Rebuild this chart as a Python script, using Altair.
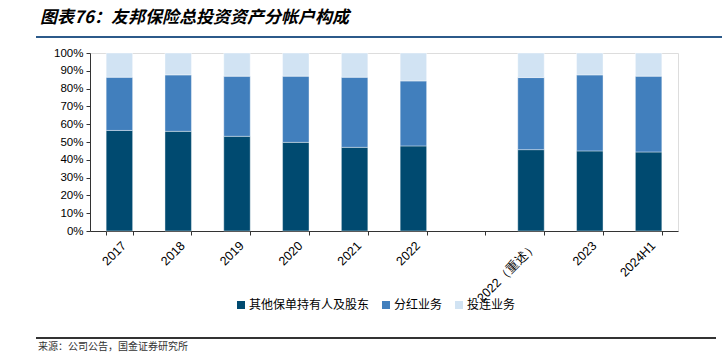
import altair as alt
import pandas as pd

categories = ["2017", "2018", "2019", "2020", "2021", "2022", " ", "2022（重述）", "2023", "2024H1"]
bar_cats = ["2017", "2018", "2019", "2020", "2021", "2022", "2022（重述）", "2023", "2024H1"]
series = ["其他保单持有人及股东", "分红业务", "投连业务"]
other = [56.5, 56.0, 53.2, 49.8, 47.0, 47.8, 45.7, 45.0, 44.4]
participating = [29.9, 31.7, 33.8, 37.2, 39.4, 36.5, 40.5, 42.7, 42.6]
unit_linked = [13.6, 12.3, 13.0, 13.0, 13.6, 15.7, 13.8, 12.3, 13.0]
colors = ["#004A70", "#417FBD", "#D1E3F3"]
y_ticks = [0, 0.1, 0.2, 0.3, 0.4, 0.5, 0.6, 0.7, 0.8, 0.9, 1.0]

title_text = "图表76：友邦保险总投资资产分帐户构成"
source_text = "来源：公司公告，国金证券研究所"

rows = []
for vals, s, k in zip([other, participating, unit_linked], series, range(3)):
    for c, v in zip(bar_cats, vals):
        rows.append({"year": c, "series": s, "value": v, "order": k})
df = pd.DataFrame(rows)

W, H = 588, 178
LEFT, TOP = 90, 53

bars = alt.Chart(df).mark_bar(stroke="#ffffff", strokeOpacity=0.5, strokeWidth=0.8).encode(
    x=alt.X("year:N", sort=categories,
            scale=alt.Scale(domain=categories, paddingInner=0.55, paddingOuter=0.275),
            axis=alt.Axis(title=None, labelAngle=-45, labelFont="Liberation Sans",
                          labelFontSize=12.5, labelColor="#000000", tickBand="extent",
                          tickSize=4, labelPadding=4, domainColor="#333333",
                          tickColor="#333333", labelOverlap=False)),
    y=alt.Y("value:Q", stack="normalize",
            scale=alt.Scale(domain=[0, 1], nice=False),
            axis=alt.Axis(title=None, format=".0%", values=y_ticks, grid=False,
                          labelFont="Liberation Sans", labelFontSize=11.5,
                          labelColor="#000000", tickSize=4, labelPadding=3,
                          domainColor="#333333", tickColor="#333333")),
    color=alt.Color("series:N", sort=series,
                    scale=alt.Scale(domain=series, range=colors),
                    legend=alt.Legend(title=None, orient="none", direction="horizontal",
                                      legendX=145, legendY=246, symbolType="square",
                                      symbolSize=64, symbolStrokeWidth=0,
                                      labelFont="Noto Sans CJK SC", labelFontSize=12,
                                      labelColor="#000000", labelOffset=2,
                                      columnPadding=10)),
    order=alt.Order("order:Q", sort="ascending"),
)

one = pd.DataFrame({"a": [0]})

title = alt.Chart(one).mark_text(
    text=title_text, align="left", baseline="middle", font="Noto Sans CJK SC",
    fontSize=17, fontWeight="bold", fontStyle="italic", color="#000000"
).encode(x=alt.value(40 - LEFT), y=alt.value(18 - TOP))

top_rule = alt.Chart(one).mark_rule(color="#2C5A8A", strokeWidth=2).encode(
    x=alt.value(36 - LEFT), x2=alt.value(722 - LEFT), y=alt.value(37 - TOP))

bottom_rule = alt.Chart(one).mark_rule(color="#333333", strokeWidth=2).encode(
    x=alt.value(36 - LEFT), x2=alt.value(716 - LEFT), y=alt.value(338 - TOP))

source = alt.Chart(one).mark_text(
    text=source_text, align="left", baseline="top", font="Noto Sans CJK SC",
    fontSize=10, color="#333333"
).encode(x=alt.value(38 - LEFT), y=alt.value(342 - TOP))

chart = alt.layer(bars, title, top_rule, bottom_rule, source).properties(
    width=W, height=H,
    autosize=alt.AutoSizeParams(type="none"),
    padding={"left": LEFT, "top": TOP, "right": 722 - LEFT - W, "bottom": 356 - TOP - H},
).configure_view(stroke=None).configure(background="#ffffff")

chart.save("out.html", embed_options={"renderer": "svg", "actions": False})
